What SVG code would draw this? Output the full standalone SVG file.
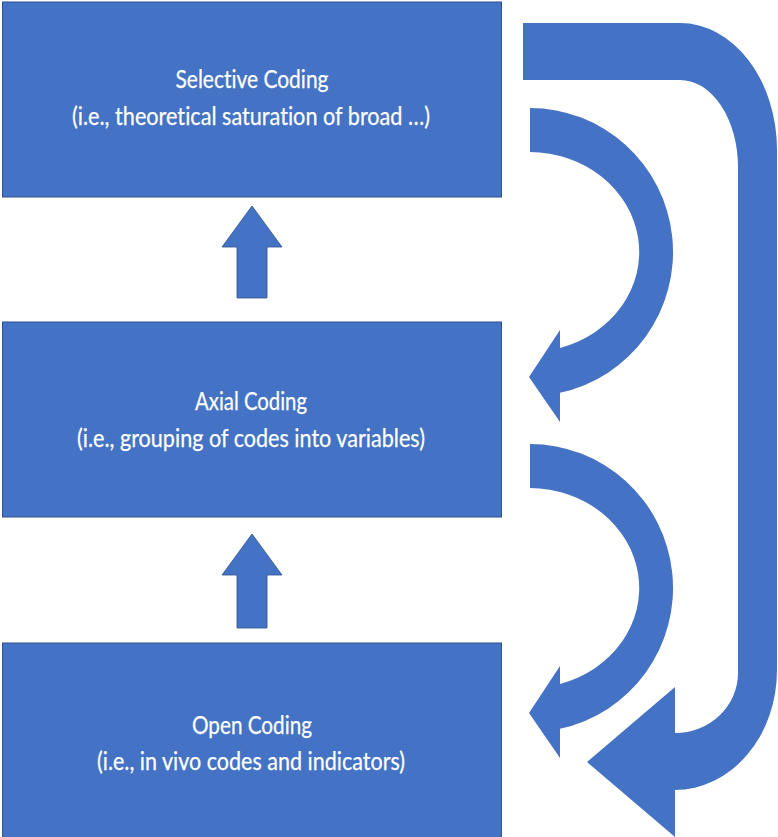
<svg xmlns="http://www.w3.org/2000/svg" width="778" height="837" viewBox="0 0 778 837">
<style>
.box{fill:#4472C4;stroke:#2F528F;stroke-width:1}
.arr{fill:#4472C4;stroke:#2F528F;stroke-width:0.8}
.big{fill:#4472C4;stroke:none}
.t{fill:#FFFFFF;font-family:Lato,"Open Sans","Liberation Sans",sans-serif;font-size:24.5px;text-anchor:middle;font-variant-ligatures:none;stroke:#FFFFFF;stroke-width:0.25}
</style>
<rect width="778" height="837" fill="#FFFFFF"/>
<g id="selective">
<rect class="box" x="2.5" y="2" width="499" height="195"/>
<text class="t" x="252" y="88" textLength="153" lengthAdjust="spacingAndGlyphs">Selective Coding</text>
<text class="t" x="251" y="125" textLength="358" lengthAdjust="spacingAndGlyphs">(i.e., theoretical saturation of broad …)</text>
</g>
<g id="axial">
<rect class="box" x="2.5" y="322" width="499" height="195"/>
<text class="t" x="251" y="410" textLength="112" lengthAdjust="spacingAndGlyphs">Axial Coding</text>
<text class="t" x="251" y="447" textLength="348" lengthAdjust="spacingAndGlyphs">(i.e., grouping of codes into variables)</text>
</g>
<g id="open">
<rect class="box" x="2.5" y="643" width="499" height="200"/>
<text class="t" x="252" y="734" textLength="120" lengthAdjust="spacingAndGlyphs">Open Coding</text>
<text class="t" x="251" y="770" textLength="308" lengthAdjust="spacingAndGlyphs">(i.e., in vivo codes and indicators)</text>
</g>
<g id="connectors">
<path class="arr" d="M252 206 L282 247 L267 247 L267 298 L237 298 L237 247 L222 247 Z"/>
<path class="arr" d="M252 534 L282 575 L267 575 L267 628 L237 628 L237 575 L222 575 Z"/>
<path id="curve1" class="big" d="M530 108 A143 144 0 0 1 560 392.8 L560 422 L529 377 L560 330 L560 348 A110 100 0 0 0 530 152 Z"/>
<path id="curve2" class="big" transform="translate(0,336)" d="M530 108 A143 144 0 0 1 560 392.8 L560 422 L529 377 L560 330 L560 348 A110 100 0 0 0 530 152 Z"/>
<path id="loop" class="big" d="M523 23 L680 23 A97 127 0 0 1 777 150 L777 670 A102 120 0 0 1 675 790 L675 837 L587 762 L675 687 L675 733 A63 60 0 0 0 738 673 L738 167 A58 87 0 0 0 680 80 L523 80 Z"/>
</g>
</svg>
